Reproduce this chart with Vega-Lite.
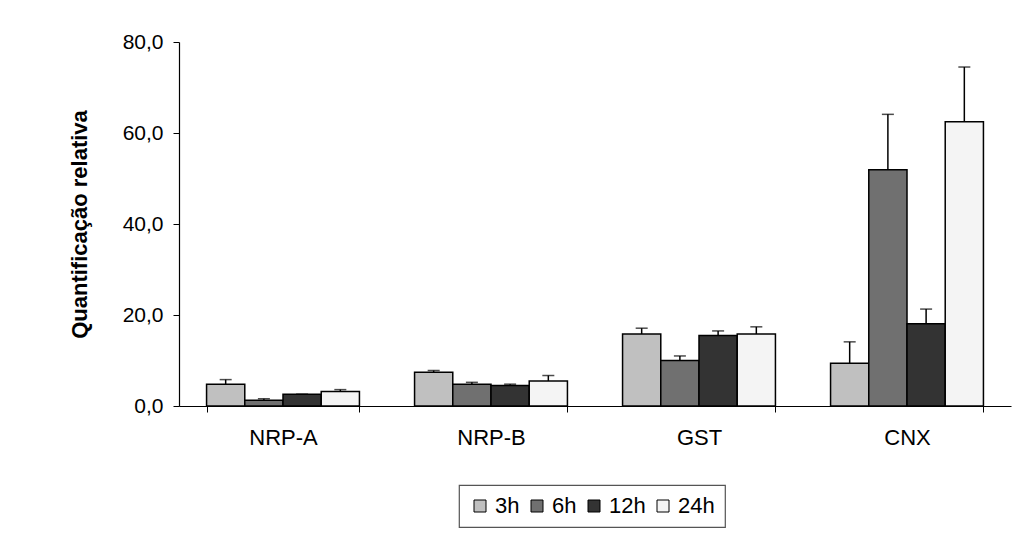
{
  "$schema": "https://vega.github.io/schema/vega-lite/v6.json",
  "autosize": "none",
  "width": 832,
  "height": 364,
  "padding": {"left": 179, "top": 42, "right": 7, "bottom": 129},
  "background": "white",
  "config": {
    "font": "Liberation Sans",
    "view": {"stroke": null},
    "legend": {"strokeWidth": 1.2}
  },
  "data": {
    "values": [
      {"gene": "NRP-A", "time": "3h", "mean": 4.8, "upper": 5.8},
      {"gene": "NRP-A", "time": "6h", "mean": 1.25, "upper": 1.6},
      {"gene": "NRP-A", "time": "12h", "mean": 2.6, "upper": 2.6},
      {"gene": "NRP-A", "time": "24h", "mean": 3.2, "upper": 3.6},
      {"gene": "NRP-B", "time": "3h", "mean": 7.4, "upper": 7.8},
      {"gene": "NRP-B", "time": "6h", "mean": 4.8, "upper": 5.2},
      {"gene": "NRP-B", "time": "12h", "mean": 4.5, "upper": 4.8},
      {"gene": "NRP-B", "time": "24h", "mean": 5.5, "upper": 6.7},
      {"gene": "GST", "time": "3h", "mean": 15.8, "upper": 17.1},
      {"gene": "GST", "time": "6h", "mean": 10.0, "upper": 11.0},
      {"gene": "GST", "time": "12h", "mean": 15.5, "upper": 16.5},
      {"gene": "GST", "time": "24h", "mean": 15.8, "upper": 17.4},
      {"gene": "CNX", "time": "3h", "mean": 9.4, "upper": 14.1},
      {"gene": "CNX", "time": "6h", "mean": 51.9, "upper": 64.1},
      {"gene": "CNX", "time": "12h", "mean": 18.1, "upper": 21.3},
      {"gene": "CNX", "time": "24h", "mean": 62.5, "upper": 74.5}
    ]
  },
  "encoding": {
    "x": {
      "field": "gene",
      "type": "nominal",
      "sort": ["NRP-A", "NRP-B", "GST", "CNX"],
      "scale": {"paddingInner": 0.265, "paddingOuter": 0.1325},
      "axis": {
        "title": null,
        "labelAngle": 0,
        "labelFontSize": 22,
        "labelColor": "black",
        "labelPadding": 15,
        "tickBand": "extent",
        "tickSize": 6,
        "tickColor": "black",
        "domainColor": "black",
        "domainWidth": 1.2
      }
    },
    "xOffset": {"field": "time", "type": "nominal", "sort": ["3h", "6h", "12h", "24h"], "scale": {"paddingInner": 0, "paddingOuter": 0}}
  },
  "layer": [
    {
      "mark": {"type": "rule", "stroke": "black", "strokeWidth": 1.5},
      "encoding": {
        "y": {"field": "mean", "type": "quantitative"},
        "y2": {"field": "upper"}
      }
    },
    {
      "mark": {"type": "tick", "color": "black", "size": 12, "thickness": 1.5},
      "encoding": {
        "y": {"field": "upper", "type": "quantitative"}
      }
    },
    {
      "mark": {"type": "bar", "stroke": "black", "strokeWidth": 1.5},
      "encoding": {
        "y": {
          "field": "mean",
          "type": "quantitative",
          "scale": {"domain": [0, 80]},
          "axis": {
            "title": "Quantificação relativa",
            "titleFontSize": 22,
            "titleFontWeight": "bold",
            "titleColor": "black",
            "titlePadding": 31,
            "values": [0, 20, 40, 60, 80],
            "labelExpr": "replace(format(datum.value, '.1f'), '.', ',')",
            "labelFontSize": 21,
            "labelColor": "black",
            "labelPadding": 10,
            "tickSize": 6,
            "tickColor": "black",
            "domainColor": "black",
            "domainWidth": 1.2,
            "grid": false
          }
        },
        "color": {
          "field": "time",
          "type": "nominal",
          "sort": ["3h", "6h", "12h", "24h"],
          "scale": {"domain": ["3h", "6h", "12h", "24h"], "range": ["#c0c0c0", "#707070", "#333333", "#f4f4f4"]},
          "legend": {
            "title": null,
            "orient": "none",
            "legendX": 280,
            "legendY": 443,
            "direction": "horizontal",
            "columns": 4,
            "symbolType": "square",
            "symbolSize": 144,
            "symbolStrokeColor": "black",
            "symbolStrokeWidth": 1,
            "symbolOpacity": 1,
            "labelFontSize": 22,
            "labelColor": "black",
            "labelOffset": 4,
            "columnPadding": 6,
            "padding": 10,
            "strokeColor": "#555555",
            "cornerRadius": 0
          }
        }
      }
    }
  ]
}
